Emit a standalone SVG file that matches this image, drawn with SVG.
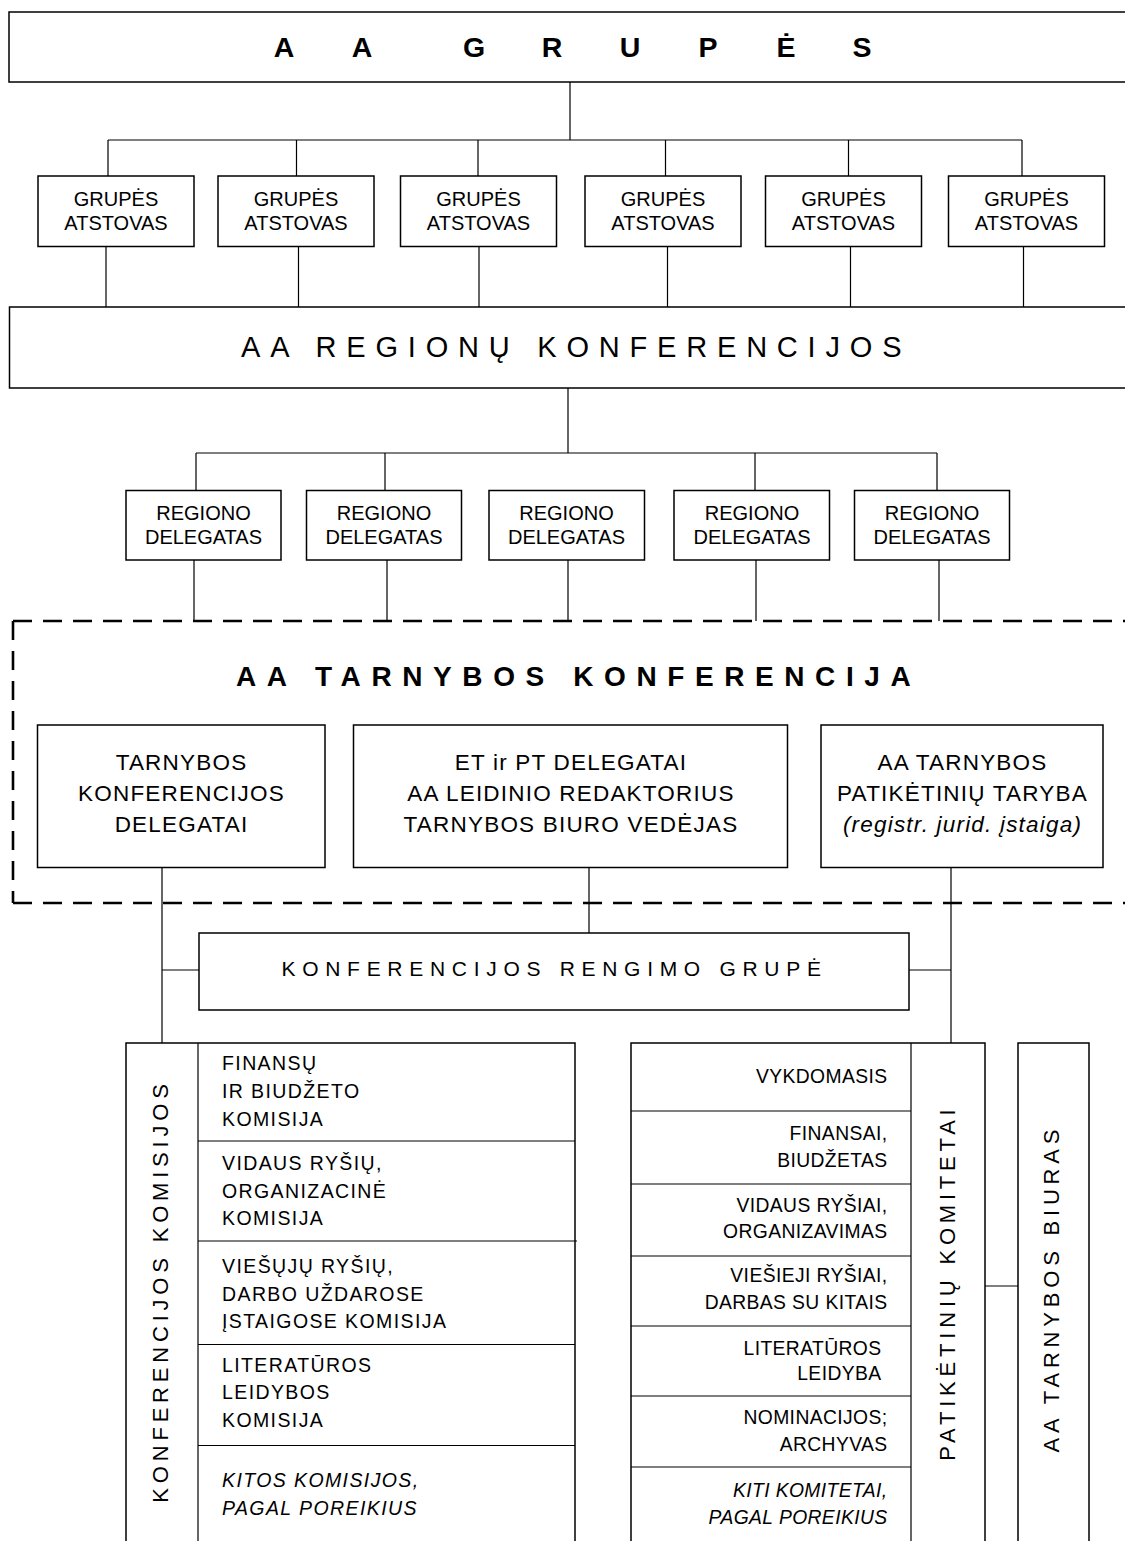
<svg xmlns="http://www.w3.org/2000/svg" width="1125" height="1541" viewBox="0 0 1125 1541">
<style>
.box{fill:none;stroke:#000;stroke-width:1.5}
.ln{fill:none;stroke:#000;stroke-width:1.2}
.dash{fill:none;stroke:#000;stroke-width:2.6;stroke-dasharray:19 11}
text{font-family:"Liberation Sans",Arial,sans-serif;fill:#000}
.s{font-size:20px;text-anchor:middle}
.m{font-size:22.5px;letter-spacing:1.2px;text-anchor:middle}
.l{font-size:19.5px;letter-spacing:1.4px}
.r{font-size:19.3px;letter-spacing:0.4px;text-anchor:end}
.v{font-size:22px;letter-spacing:4.8px;text-anchor:middle}
.i{font-style:italic}
</style>
<rect width="1125" height="1541" fill="#fff"/>

<g id="connectors">
  <path class="ln" d="M570,82V140M108,140H1022M108,140V176M296.5,140V176M478,140V176M665.5,140V176M848.5,140V176M1022,140V176"/>
  <path class="ln" d="M106,246.5V307M298.5,246.5V307M479,246.5V307M667.5,246.5V307M850.5,246.5V307M1023.5,246.5V307"/>
  <path class="ln" d="M568,388V453M196,453H937M196,453V490.5M385,453V490.5M755,453V490.5M937,453V490.5"/>
  <path class="ln" d="M194,560V621M387,560V621M568,560V621M756,560V621M939,560V621"/>
  <path class="ln" d="M162,867.5V1043M589,867.5V933M951,867.5V1043M162,970H199M909,970H951"/>
  <path class="ln" d="M985,1286H1018"/>
</g>

<g id="aa-grupes">
  <rect class="box" x="9" y="12" width="1130" height="70"/>
  <text font-size="28.5" font-weight="bold" text-anchor="middle" x="284 362 418 474 552 630 708 786 862" y="57">AA GRUPĖS</text>
</g>

<g id="grupes-atstovai">
  <g id="ga1"><rect class="box" x="38" y="176" width="156" height="70.5"/><text class="s" x="116" y="206">GRUPĖS</text><text class="s" x="116" y="230">ATSTOVAS</text></g>
  <g id="ga2"><rect class="box" x="218" y="176" width="156" height="70.5"/><text class="s" x="296" y="206">GRUPĖS</text><text class="s" x="296" y="230">ATSTOVAS</text></g>
  <g id="ga3"><rect class="box" x="400.5" y="176" width="156" height="70.5"/><text class="s" x="478.5" y="206">GRUPĖS</text><text class="s" x="478.5" y="230">ATSTOVAS</text></g>
  <g id="ga4"><rect class="box" x="585" y="176" width="156" height="70.5"/><text class="s" x="663" y="206">GRUPĖS</text><text class="s" x="663" y="230">ATSTOVAS</text></g>
  <g id="ga5"><rect class="box" x="765.5" y="176" width="156" height="70.5"/><text class="s" x="843.5" y="206">GRUPĖS</text><text class="s" x="843.5" y="230">ATSTOVAS</text></g>
  <g id="ga6"><rect class="box" x="948.5" y="176" width="156" height="70.5"/><text class="s" x="1026.5" y="206">GRUPĖS</text><text class="s" x="1026.5" y="230">ATSTOVAS</text></g>
</g>

<g id="regionu-konferencijos">
  <rect class="box" x="9.5" y="307" width="1130" height="81"/>
  <text font-size="29" letter-spacing="9.8" x="241" y="357">AA REGIONŲ KONFERENCIJOS</text>
</g>

<g id="regiono-delegatai">
  <g id="rd1"><rect class="box" x="126" y="490.5" width="155" height="69.5"/><text class="s" x="203.5" y="520">REGIONO</text><text class="s" x="203.5" y="544">DELEGATAS</text></g>
  <g id="rd2"><rect class="box" x="306.5" y="490.5" width="155" height="69.5"/><text class="s" x="384" y="520">REGIONO</text><text class="s" x="384" y="544">DELEGATAS</text></g>
  <g id="rd3"><rect class="box" x="489" y="490.5" width="155.5" height="69.5"/><text class="s" x="566.5" y="520">REGIONO</text><text class="s" x="566.5" y="544">DELEGATAS</text></g>
  <g id="rd4"><rect class="box" x="674" y="490.5" width="155.5" height="69.5"/><text class="s" x="752" y="520">REGIONO</text><text class="s" x="752" y="544">DELEGATAS</text></g>
  <g id="rd5"><rect class="box" x="854.5" y="490.5" width="155" height="69.5"/><text class="s" x="932" y="520">REGIONO</text><text class="s" x="932" y="544">DELEGATAS</text></g>
</g>

<g id="tarnybos-konferencija">
  <path class="dash" d="M13,621V903M13,621H1135M13,903H1135"/>
  <text font-size="28" font-weight="bold" letter-spacing="10.6" x="236" y="686">AA TARNYBOS KONFERENCIJA</text>
</g>

<g id="tk-delegatai">
  <rect class="box" x="37.5" y="725" width="287.5" height="142.5"/>
  <text class="m" x="181.5" y="770">TARNYBOS</text>
  <text class="m" x="181.5" y="801">KONFERENCIJOS</text>
  <text class="m" x="181.5" y="832">DELEGATAI</text>
</g>
<g id="et-pt-delegatai">
  <rect class="box" x="353.5" y="725" width="434" height="142.5"/>
  <text class="m" x="571" y="770">ET ir PT DELEGATAI</text>
  <text class="m" x="571" y="801">AA LEIDINIO REDAKTORIUS</text>
  <text class="m" x="571" y="832">TARNYBOS BIURO VEDĖJAS</text>
</g>
<g id="patiketiniu-taryba">
  <rect class="box" x="821" y="725" width="282" height="142.5"/>
  <text class="m" x="962.5" y="770">AA TARNYBOS</text>
  <text class="m" x="962.5" y="801">PATIKĖTINIŲ TARYBA</text>
  <text class="m i" x="962.5" y="832">(registr. jurid. įstaiga)</text>
</g>

<g id="rengimo-grupe">
  <rect class="box" x="199" y="933" width="710" height="77"/>
  <text font-size="21" letter-spacing="6.7" x="281.5" y="975.5">KONFERENCIJOS RENGIMO GRUPĖ</text>
</g>

<g id="konferencijos-komisijos">
  <rect class="box" x="126" y="1043" width="449" height="520"/>
  <path class="ln" d="M198,1043V1563M198,1141H575M198,1241H577M198,1344.5H575M198,1445.5H575"/>
  <text class="v" font-size="23" letter-spacing="4.2" transform="translate(168,1291) rotate(-90)">KONFERENCIJOS KOMISIJOS</text>
  <text class="l" x="222" y="1070">FINANSŲ</text>
  <text class="l" x="222" y="1098">IR BIUDŽETO</text>
  <text class="l" x="222" y="1125.5">KOMISIJA</text>
  <text class="l" x="222" y="1170">VIDAUS RYŠIŲ,</text>
  <text class="l" x="222" y="1197.5">ORGANIZACINĖ</text>
  <text class="l" x="222" y="1225">KOMISIJA</text>
  <text class="l" x="222" y="1273">VIEŠŲJŲ RYŠIŲ,</text>
  <text class="l" x="222" y="1300.5">DARBO UŽDAROSE</text>
  <text class="l" x="222" y="1328">ĮSTAIGOSE KOMISIJA</text>
  <text class="l" x="222" y="1371.5">LITERATŪROS</text>
  <text class="l" x="222" y="1399">LEIDYBOS</text>
  <text class="l" x="222" y="1426.5">KOMISIJA</text>
  <text class="l i" x="222" y="1487">KITOS KOMISIJOS,</text>
  <text class="l i" x="222" y="1515">PAGAL POREIKIUS</text>
</g>

<g id="patiketiniu-komitetai">
  <rect class="box" x="631" y="1043" width="354" height="520"/>
  <path class="ln" d="M911,1043V1563M631,1111H911M631,1184H911M631,1256H911M631,1326H911M631,1396H911M631,1467H911"/>
  <text class="v" transform="translate(955,1282.6) rotate(-90)">PATIKĖTINIŲ KOMITETAI</text>
  <text class="r" x="887.5" y="1083">VYKDOMASIS</text>
  <text class="r" x="887.5" y="1140">FINANSAI,</text>
  <text class="r" x="887.5" y="1166.5">BIUDŽETAS</text>
  <text class="r" x="887.5" y="1211.5">VIDAUS RYŠIAI,</text>
  <text class="r" x="887.5" y="1237.5">ORGANIZAVIMAS</text>
  <text class="r" x="887.5" y="1282">VIEŠIEJI RYŠIAI,</text>
  <text class="r" x="887.5" y="1308.5">DARBAS SU KITAIS</text>
  <text class="r" x="881.5" y="1355">LITERATŪROS</text>
  <text class="r" x="881.5" y="1379.5">LEIDYBA</text>
  <text class="r" x="887.5" y="1424">NOMINACIJOS;</text>
  <text class="r" x="887.5" y="1451">ARCHYVAS</text>
  <text class="r i" x="887.5" y="1496.5">KITI KOMITETAI,</text>
  <text class="r i" x="887.5" y="1524">PAGAL POREIKIUS</text>
</g>

<g id="tarnybos-biuras">
  <rect class="box" x="1018" y="1043" width="71" height="520"/>
  <text class="v" transform="translate(1059,1288.6) rotate(-90)">AA TARNYBOS BIURAS</text>
</g>
</svg>
